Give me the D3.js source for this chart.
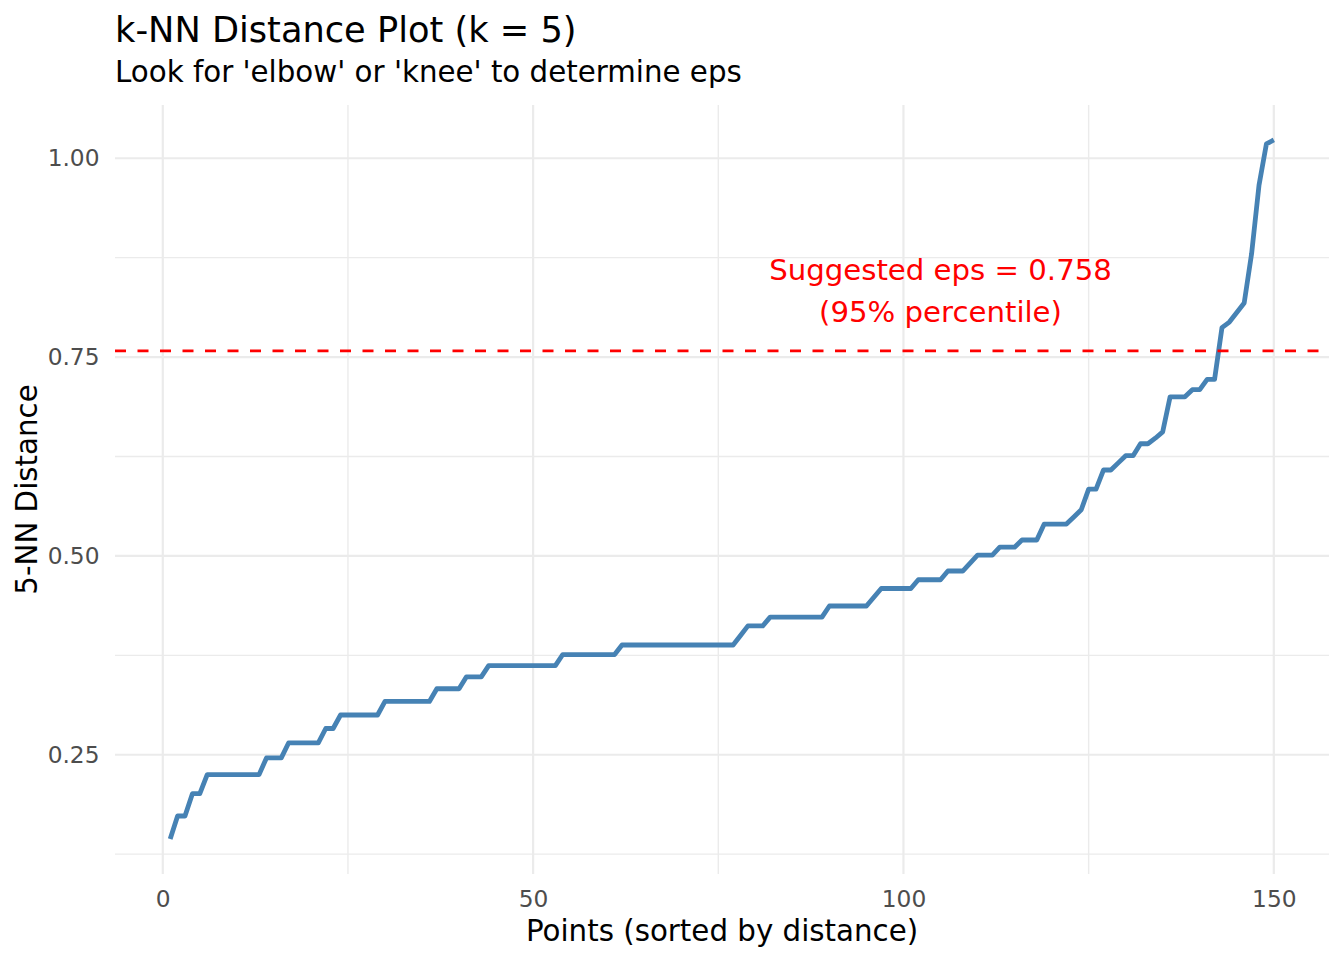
<!DOCTYPE html>
<html>
<head>
<meta charset="utf-8">
<script src="https://cdn.jsdelivr.net/npm/d3@7"></script>
<style>
	body {margin: 0; background: white;}
	text {font-family: "DejaVu Sans", sans-serif;}
</style>
</head>
<body>
<svg id="chart" width="1344" height="960"></svg>
<script>
	'use strict';

	// sorted 5-NN distances (point 1..150)
	var distances = [
		0.144, 0.173, 0.173, 0.201, 0.201,
		0.225, 0.225, 0.225, 0.225, 0.225, 0.225, 0.225, 0.225,
		0.246, 0.246, 0.246,
		0.265, 0.265, 0.265, 0.265, 0.265,
		0.283, 0.283,
		0.300, 0.300, 0.300, 0.300, 0.300, 0.300,
		0.317, 0.317, 0.317, 0.317, 0.317, 0.317, 0.317,
		0.333, 0.333, 0.333, 0.333,
		0.348, 0.348, 0.348,
		0.362, 0.362, 0.362, 0.362, 0.362, 0.362, 0.362, 0.362, 0.362, 0.362,
		0.376, 0.376, 0.376, 0.376, 0.376, 0.376, 0.376, 0.376,
		0.388, 0.388, 0.388, 0.388, 0.388, 0.388, 0.388, 0.388,
		0.388, 0.388, 0.388, 0.388, 0.388, 0.388, 0.388, 0.388,
		0.400,
		0.412, 0.412, 0.412,
		0.423, 0.423, 0.423, 0.423, 0.423, 0.423, 0.423, 0.423,
		0.437, 0.437, 0.437, 0.437, 0.437, 0.437,
		0.448,
		0.459, 0.459, 0.459, 0.459, 0.459,
		0.470, 0.470, 0.470, 0.470,
		0.481, 0.481, 0.481,
		0.491,
		0.501, 0.501, 0.501,
		0.511, 0.511, 0.511,
		0.520, 0.520, 0.520,
		0.540, 0.540, 0.540, 0.540,
		0.549, 0.558,
		0.584, 0.584,
		0.608, 0.608,
		0.617,
		0.626, 0.626,
		0.641, 0.641,
		0.648, 0.656,
		0.700, 0.700, 0.700,
		0.709, 0.709,
		0.722, 0.722,
		0.787, 0.794, 0.806, 0.818,
		0.880, 0.966, 1.018, 1.023
	];
	var xTicks = [0, 50, 100, 150];
	var xMinor = [25, 75, 125];
	var yTicks = [0.25, 0.50, 0.75, 1.00];
	var yMinor = [0.125, 0.375, 0.625, 0.875];

	var titleText = 'k-NN Distance Plot (k = 5)';
	var subtitleText = "Look for 'elbow' or 'knee' to determine eps";
	var xTitle = 'Points (sorted by distance)';
	var yTitle = '5-NN Distance';
	var noteLines = ['Suggested eps = ', '(95% percentile)'];

	(function() {
		var points = distances.map(function(d, i) {return {x: i + 1, y: d};});
		var eps = d3.quantile(distances, 0.95);

		var svg = d3.select('#chart');
		var pLeft = 115, pRight = 1329, pTop = 105, pBottom = 874;

		// ggplot style 5% expansion on both ends
		var xExt = d3.extent(points, function(d) {return d.x;});
		var xPad = (xExt[1] - xExt[0]) * 0.05;
		var x = d3.scaleLinear().domain([xExt[0] - xPad, xExt[1] + xPad]).range([pLeft, pRight]);
		var yExt = d3.extent(distances);
		var yPad = (yExt[1] - yExt[0]) * 0.05;
		var y = d3.scaleLinear().domain([yExt[0] - yPad, yExt[1] + yPad]).range([pBottom, pTop]);

		var grid = svg.append('g');
		function hLines(vals, w) {
			grid.selectAll(null).data(vals).enter().append('line')
				.attr('x1', pLeft).attr('x2', pRight)
				.attr('y1', function(d) {return y(d);}).attr('y2', function(d) {return y(d);})
				.attr('stroke', '#ebebeb').attr('stroke-width', w);
		}
		function vLines(vals, w) {
			grid.selectAll(null).data(vals).enter().append('line')
				.attr('y1', pTop).attr('y2', pBottom)
				.attr('x1', function(d) {return x(d);}).attr('x2', function(d) {return x(d);})
				.attr('stroke', '#ebebeb').attr('stroke-width', w);
		}
		hLines(yMinor, 1.4);
		vLines(xMinor, 1.4);
		hLines(yTicks, 2.2);
		vLines(xTicks, 2.2);

		// axes, drawn with d3 then stripped of the domain path
		var xAxis = svg.append('g')
			.attr('transform', 'translate(0,' + pBottom + ')')
			.call(d3.axisBottom(x).tickValues(xTicks).tickSize(0).tickPadding(16).tickFormat(d3.format('d')));
		var yAxis = svg.append('g')
			.attr('transform', 'translate(' + pLeft + ',0)')
			.call(d3.axisLeft(y).tickValues(yTicks).tickSize(0).tickPadding(15.5).tickFormat(d3.format('.2f')));
		[xAxis, yAxis].forEach(function(a) {
			a.select('.domain').remove();
			a.selectAll('text')
				.attr('font-family', '"DejaVu Sans", sans-serif')
				.attr('font-size', 23.3)
				.attr('fill', '#4d4d4d');
		});

		var line = d3.line()
			.x(function(d) {return x(d.x);})
			.y(function(d) {return y(d.y);});
		svg.append('path')
			.datum(points)
			.attr('d', line)
			.attr('fill', 'none')
			.attr('stroke', 'steelblue')
			.attr('stroke-width', 4.8)
			.attr('stroke-linejoin', 'round');

		svg.append('line')
			.attr('x1', pLeft).attr('x2', pRight)
			.attr('y1', y(eps)).attr('y2', y(eps))
			.attr('stroke', 'red')
			.attr('stroke-width', 2.8)
			.attr('stroke-dasharray', '11,11.5');

		var note = svg.append('text')
			.attr('text-anchor', 'middle')
			.attr('font-size', 29.2)
			.attr('fill', 'red');
		note.append('tspan').attr('x', x(105)).attr('y', 280)
			.text(noteLines[0] + d3.format('.3f')(eps));
		note.append('tspan').attr('x', x(105)).attr('y', 322)
			.text(noteLines[1]);

		svg.append('text')
			.attr('x', 115).attr('y', 42)
			.attr('font-size', 35.2)
			.attr('fill', 'black')
			.text(titleText);
		svg.append('text')
			.attr('x', 115).attr('y', 82)
			.attr('font-size', 29.3)
			.attr('fill', 'black')
			.text(subtitleText);

		svg.append('text')
			.attr('x', (pLeft + pRight) / 2).attr('y', 941)
			.attr('text-anchor', 'middle')
			.attr('font-size', 29.3)
			.text(xTitle);
		svg.append('text')
			.attr('transform', 'translate(37,' + ((pTop + pBottom) / 2) + ') rotate(-90)')
			.attr('text-anchor', 'middle')
			.attr('font-size', 29.3)
			.text(yTitle);
	})();
</script>
</body>
</html>
